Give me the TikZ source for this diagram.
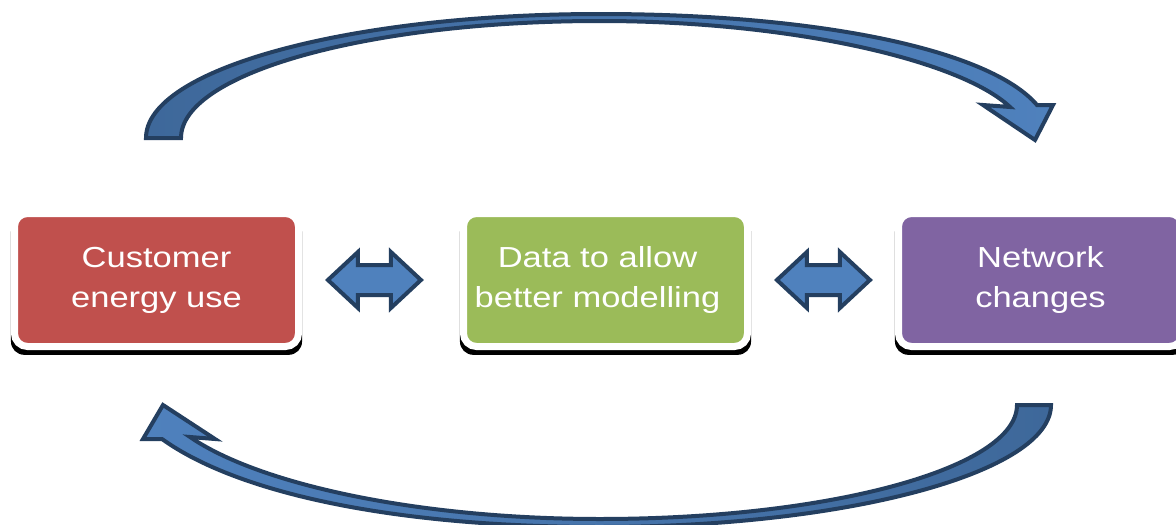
\documentclass[tikz,border=0pt]{standalone}
\usepackage{fontspec}
\setmainfont{Liberation Sans}
\newfontfamily\boxfont[FakeStretch=1.19]{Liberation Sans}
\usepackage{tikz}
\usetikzlibrary{shapes,arrows,positioning,shadows}
\definecolor{boxred}{RGB}{192, 80, 77}
\definecolor{boxgreen}{RGB}{155, 187, 89}
\definecolor{boxpurple}{RGB}{128, 100, 162}
\definecolor{arrowblue}{RGB}{79, 129, 189}
\definecolor{arrowdark}{RGB}{62, 104, 154}
\definecolor{arrowline}{RGB}{36, 63, 96}
\tikzstyle{box} = [rectangle, rounded corners=13pt, draw=white, line width=7pt, text=white, align=center, minimum width=284pt, minimum height=133pt, font=\boxfont\fontsize{29}{40}\selectfont, drop shadow={shadow xshift=0pt, shadow yshift=-6.5pt, shadow scale=1.025, fill=black, opacity=1}]
\tikzstyle{dblarrow} = [double arrow, draw=arrowline, fill=arrowblue, line width=4pt, minimum height=93pt, inner xsep=0pt, inner ysep=13pt, double arrow head extend=13pt, double arrow tip angle=86]
\tikzstyle{cycarrow} = [draw=arrowline, line width=4pt, line join=miter]

\begin{document}
\begin{tikzpicture}[x=1pt, y=-1pt]
\path[fill=white, use as bounding box] (0,0) rectangle (1176,525);

% boxes =============================
\node[box, fill=boxred] (cust) at (156.5,280) {Customer\\energy use};
\node[box, fill=boxgreen, right=158pt of cust] (data) {\hspace*{-16pt}Data to allow\\\hspace*{-16pt}better modelling};
\node[box, fill=boxpurple, right=144pt of data] (netw) {Network\\changes};

% double arrows
\node[dblarrow, right=23pt of cust] (arr1) {};
\node[dblarrow, right=23pt of data] (arr2) {};

% curved arrows =============================
% top: customer -> network
\path[cycarrow, left color=arrowdark, right color=arrowblue]
  (146,138) .. controls (146,69) and (349,14) .. (600,14)
  .. controls (820,14) and (990,50) .. (1037,105)
  -- (1053,105) -- (1035,140) -- (983,105) -- (1010,107)
  .. controls (960,60) and (790,21) .. (600,21)
  .. controls (369,21) and (181,73) .. (181,138) -- cycle;

% bottom: network -> customer
\path[cycarrow, left color=arrowblue, right color=arrowdark]
  (1017,405) -- (1051,405)
  .. controls (1051,472) and (849,527) .. (600,527)
  .. controls (400,527) and (240,495) .. (162,439)
  -- (143,439) -- (163,405) -- (215,439) -- (190,437)
  .. controls (260,485) and (420,519) .. (600,519)
  .. controls (830,519) and (1017,468) .. (1017,405) -- cycle;

\end{tikzpicture}
\end{document}
